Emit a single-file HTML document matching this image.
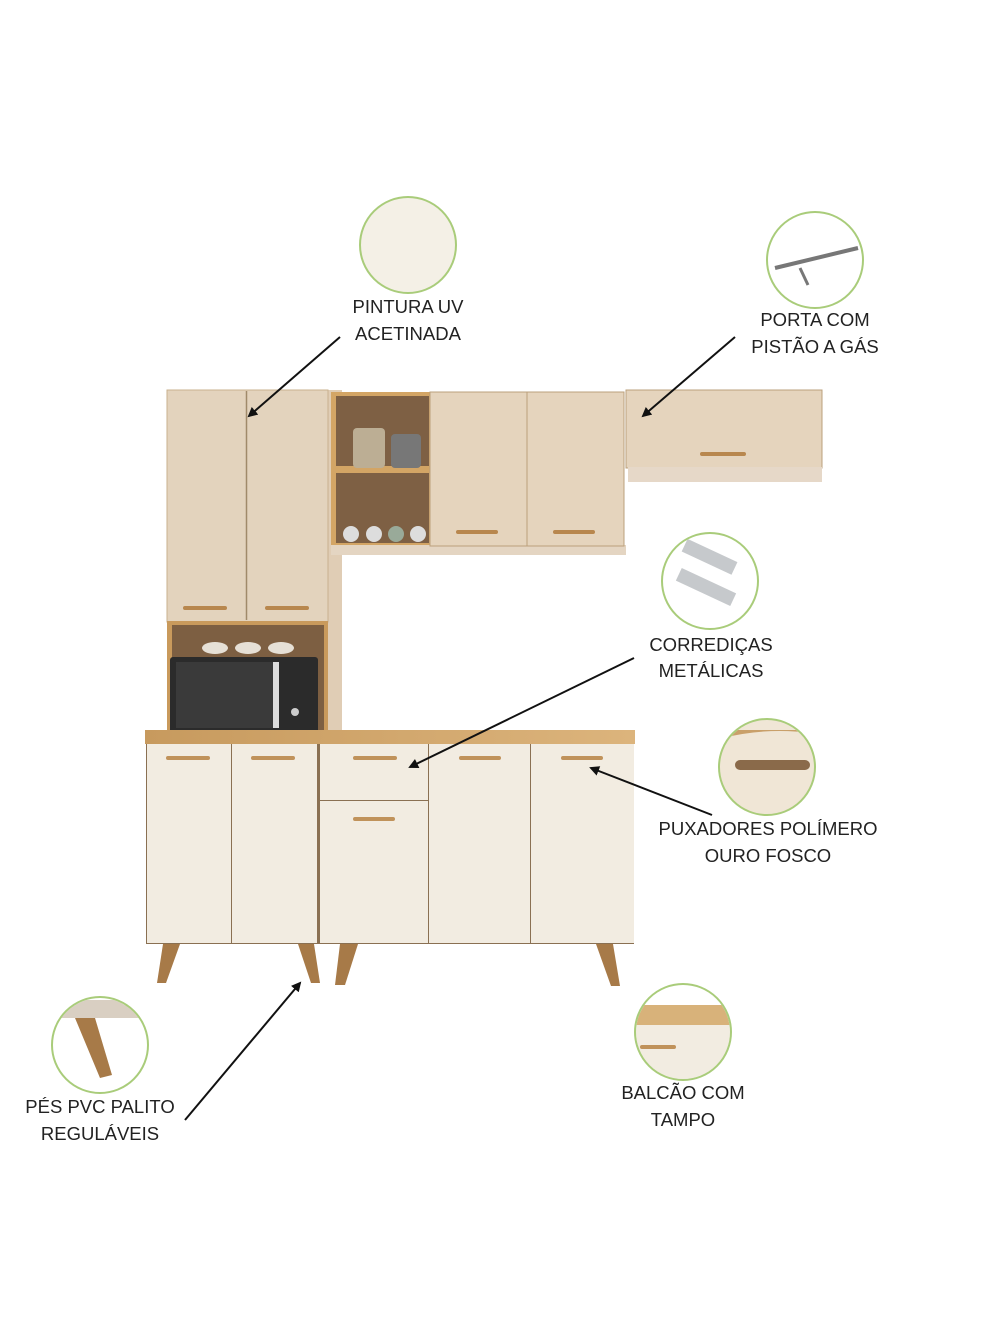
<!DOCTYPE html>
<html><head><meta charset="utf-8"><style>
html,body{margin:0;padding:0;background:#fff}
svg{display:block}
text{font-family:"Liberation Sans",sans-serif;font-size:18.5px;fill:#222;text-anchor:middle}
</style></head><body>
<svg width="1000" height="1333" viewBox="0 0 1000 1333">
<defs>
<marker id="ah" markerWidth="10" markerHeight="10" refX="8" refY="5" orient="auto" markerUnits="userSpaceOnUse"><path d="M0,0 L10,5 L0,10 Z" fill="#111"/></marker>
<linearGradient id="wood" x1="0" x2="1"><stop offset="0" stop-color="#c79a5e"/><stop offset="1" stop-color="#dcb47c"/></linearGradient>
<clipPath id="c1"><circle cx="710" cy="581" r="47"/></clipPath>
<clipPath id="c2"><circle cx="767" cy="767" r="47"/></clipPath>
<clipPath id="c3"><circle cx="100" cy="1045" r="47"/></clipPath>
<clipPath id="c4"><circle cx="683" cy="1032" r="47"/></clipPath>
<clipPath id="c5"><circle cx="815" cy="260" r="47"/></clipPath>
</defs>
<rect width="1000" height="1333" fill="#fff"/>

<!-- tall upper cabinet -->
<rect x="328" y="390" width="14" height="342" fill="#e0cdb5"/>
<rect x="167" y="390" width="161" height="232" fill="#e3d3bd"/>
<line x1="246.5" y1="391" x2="246.5" y2="620" stroke="#a08a6a" stroke-width="1.5"/>
<rect x="167" y="390" width="161" height="232" fill="none" stroke="#c8b08e" stroke-width="1"/>
<rect x="183" y="606" width="44" height="4" rx="2" fill="#b8874e"/>
<rect x="265" y="606" width="44" height="4" rx="2" fill="#b8874e"/>
<rect x="167" y="621" width="161" height="112" fill="#c99a5c"/>
<rect x="172" y="625" width="152" height="106" fill="#7d5f42"/>
<ellipse cx="215" cy="648" rx="13" ry="6" fill="#e6e0d6"/>
<ellipse cx="248" cy="648" rx="13" ry="6" fill="#e6e0d6"/>
<ellipse cx="281" cy="648" rx="13" ry="6" fill="#e6e0d6"/>
<rect x="170" y="657" width="148" height="77" rx="3" fill="#2b2b2b"/>
<rect x="176" y="662" width="98" height="66" fill="#3a3a3a"/>
<rect x="273" y="662" width="6" height="66" fill="#ddd"/>
<circle cx="295" cy="712" r="4" fill="#ccc"/>

<!-- open shelf -->
<rect x="331" y="392" width="100" height="156" fill="#d3a565"/>
<rect x="336" y="396" width="93" height="147" fill="#7e6044"/>
<rect x="336" y="466" width="93" height="7" fill="#d3a565"/>
<rect x="353" y="428" width="32" height="40" rx="4" fill="#bcae94"/>
<rect x="391" y="434" width="30" height="34" rx="4" fill="#777"/>
<circle cx="351" cy="534" r="8" fill="#ddd"/><circle cx="374" cy="534" r="8" fill="#ddd"/><circle cx="396" cy="534" r="8" fill="#9a9"/><circle cx="418" cy="534" r="8" fill="#ddd"/>
<rect x="331" y="545" width="295" height="10" fill="#e4d5c2"/>
<rect x="430" y="392" width="97" height="154" fill="#e5d4bd" stroke="#bba07c" stroke-width="1"/>
<rect x="527" y="392" width="97" height="154" fill="#e5d4bd" stroke="#bba07c" stroke-width="1"/>
<rect x="456" y="530" width="42" height="4" rx="2" fill="#b8874e"/>
<rect x="553" y="530" width="42" height="4" rx="2" fill="#b8874e"/>

<!-- right wall unit -->
<rect x="626" y="390" width="196" height="78" fill="#e5d4bd" stroke="#bba07c" stroke-width="1"/>
<rect x="628" y="467" width="194" height="15" fill="#e6d8c8"/>
<rect x="700" y="452" width="46" height="4" rx="2" fill="#b8874e"/>

<!-- countertop -->
<rect x="145" y="730" width="490" height="14" fill="url(#wood)"/>
<!-- base cabinets -->
<rect x="146" y="744" width="488" height="200" fill="#8a7052"/>
<rect x="147" y="744" width="84" height="199" fill="#f2ece1"/>
<rect x="232" y="744" width="85" height="199" fill="#f2ece1"/>
<rect x="320" y="744" width="108" height="56" fill="#f2ece1"/>
<rect x="320" y="801" width="108" height="142" fill="#f2ece1"/>
<rect x="429" y="744" width="101" height="199" fill="#f2ece1"/>
<rect x="531" y="744" width="103" height="199" fill="#f2ece1"/>
<g fill="#c0925a">
<rect x="166" y="756" width="44" height="4" rx="2"/>
<rect x="251" y="756" width="44" height="4" rx="2"/>
<rect x="353" y="756" width="44" height="4" rx="2"/>
<rect x="459" y="756" width="42" height="4" rx="2"/>
<rect x="561" y="756" width="42" height="4" rx="2"/>
<rect x="353" y="817" width="42" height="4" rx="2"/>
</g>
<!-- legs -->
<g fill="#a77a48">
<polygon points="163,944 180,944 166,983 157,983"/>
<polygon points="298,944 314,944 320,983 311,983"/>
<polygon points="340,944 358,944 345,985 335,985"/>
<polygon points="596,944 613,944 620,986 611,986"/>
</g>

<!-- circles -->
<g stroke="none">
<circle cx="408" cy="245" r="48" fill="#f4f0e6"/>
<circle cx="815" cy="260" r="48" fill="#fff"/>
<circle cx="710" cy="581" r="48" fill="#fff"/>
<circle cx="767" cy="767" r="48" fill="#f3e8d8"/>
<circle cx="100" cy="1045" r="48" fill="#fff"/>
<circle cx="683" cy="1032" r="48" fill="#fff"/>
</g>
<!-- inner icons -->
<g clip-path="url(#c5)">
<line x1="775" y1="268" x2="858" y2="248" stroke="#777" stroke-width="4"/>
<line x1="800" y1="268" x2="808" y2="285" stroke="#777" stroke-width="3"/>
</g>
<g clip-path="url(#c1)">
<rect x="682" y="550" width="55" height="14" fill="#c6c9cc" transform="rotate(25 710 557)"/>
<rect x="676" y="580" width="60" height="14" fill="#c6c9cc" transform="rotate(25 706 587)"/>
</g>
<g clip-path="url(#c2)">
<rect x="715" y="720" width="110" height="100" fill="#f0e6d6"/>
<path d="M715,740 Q767,725 825,735 L825,730 L715,730 Z" fill="#c9a06a"/>
<rect x="735" y="760" width="75" height="10" rx="5" fill="#8a6a4a"/>
</g>
<g clip-path="url(#c3)">
<rect x="55" y="1000" width="85" height="18" fill="#d9cfc2"/>
<polygon points="75,1018 95,1018 112,1075 100,1078" fill="#a77a48"/>
</g>
<g clip-path="url(#c4)">
<rect x="636" y="1005" width="94" height="20" fill="#d8b27a"/>
<rect x="636" y="1025" width="94" height="60" fill="#f2ece1"/>
<rect x="640" y="1045" width="36" height="4" rx="2" fill="#c0925a"/>
</g>
<g fill="none" stroke="#a9cc7a" stroke-width="2">
<circle cx="408" cy="245" r="48"/>
<circle cx="815" cy="260" r="48"/>
<circle cx="710" cy="581" r="48"/>
<circle cx="767" cy="767" r="48"/>
<circle cx="100" cy="1045" r="48"/>
<circle cx="683" cy="1032" r="48"/>
</g>

<!-- arrows -->
<g stroke="#111" stroke-width="2" marker-end="url(#ah)">
<line x1="340" y1="337" x2="249" y2="416"/>
<line x1="735" y1="337" x2="643" y2="416"/>
<line x1="634" y1="658" x2="410" y2="767"/>
<line x1="712" y1="815" x2="591" y2="768"/>
<line x1="185" y1="1120" x2="300" y2="983"/>
</g>

<!-- labels -->
<text x="408" y="313">PINTURA UV</text>
<text x="408" y="340">ACETINADA</text>
<text x="815" y="326">PORTA COM</text>
<text x="815" y="353">PISTÃO A GÁS</text>
<text x="711" y="651">CORREDIÇAS</text>
<text x="711" y="677">METÁLICAS</text>
<text x="768" y="835">PUXADORES POLÍMERO</text>
<text x="768" y="862">OURO FOSCO</text>
<text x="100" y="1113">PÉS PVC PALITO</text>
<text x="100" y="1140">REGULÁVEIS</text>
<text x="683" y="1099">BALCÃO COM</text>
<text x="683" y="1126">TAMPO</text>
</svg>
</body></html>
